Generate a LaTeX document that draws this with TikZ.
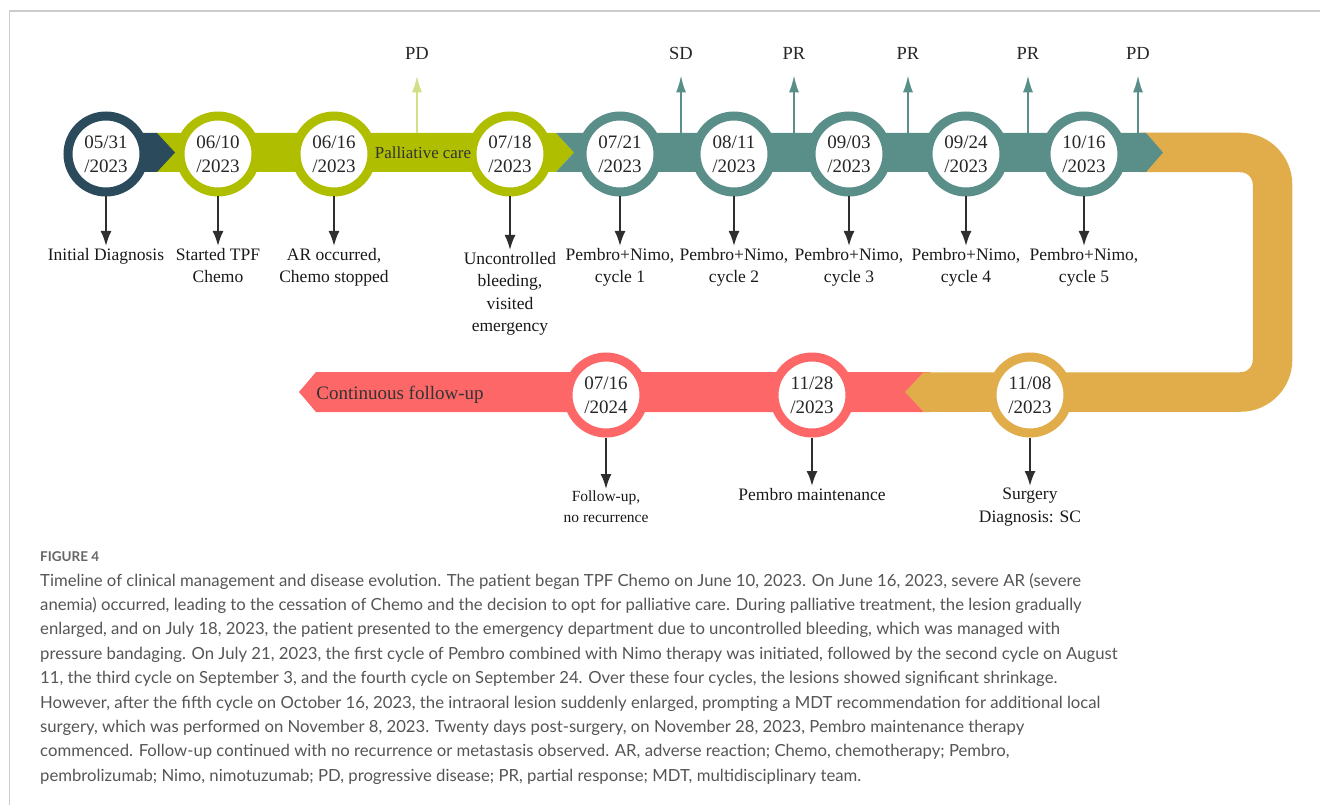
\documentclass[tikz,border=0pt]{standalone}
\usepackage{fontspec}
\setmainfont{Liberation Serif}
\newfontfamily\capfont{Lato}
\usetikzlibrary{arrows.meta}

\definecolor{navy}{HTML}{2B4B5D}
\definecolor{lime}{HTML}{AFBF00}
\definecolor{palelime}{HTML}{D3DF86}
\definecolor{tealband}{HTML}{5A8F89}
\definecolor{gold}{HTML}{E1AC4A}
\definecolor{coral}{HTML}{FE6767}
\definecolor{arrowgray}{HTML}{2E2E2E}
\definecolor{capgray}{HTML}{555555}
\definecolor{framegray}{HTML}{CCCCCC}

\begin{document}
\begin{tikzpicture}[x=1pt, y=-1pt,
	date/.style={circle, fill=white, line width=9pt, minimum size=76pt, inner sep=0pt, align=center, text=black!85, font=\fontsize{19}{24}\selectfont},
	event/.style={anchor=north, align=center, inner sep=2pt, text=black!90, font=\fontsize{17.5}{22.5}\selectfont},
	status/.style={inner sep=0pt, text=black!85, font=\fontsize{18.5}{22}\selectfont},
	down/.style={-{Latex[length=15pt,width=11pt]}, line width=2pt, draw=arrowgray},
	upteal/.style={-{Latex[length=17pt,width=10pt]}, line width=2pt, draw=tealband, shorten >=16pt},
	uplime/.style={-{Latex[length=17pt,width=10pt]}, line width=2.5pt, draw=palelime, shorten >=16pt}]

	\useasboundingbox (0,0) rectangle (1320,805);
	% Frame
	\draw[framegray, line width=1.5pt] (9.5,805) -- (9.5,11) -- (1320,11);

	% Draw bands
	%Top row
	\fill[lime] (157,133) -- (556,133) -- (574,152.5) -- (556,172) -- (157,172) -- cycle;
	\fill[navy] (106,133) -- (157,133) -- (175,152.5) -- (157,172) -- (106,172) -- cycle;
	%Bottom row
	\fill[coral] (316,372) -- (930,372) -- (930,412) -- (316,412) -- (299,392) -- cycle;
	%Turn
	\draw[gold, line width=39.5pt, rounded corners=32pt] (1140,152.5) -- (1272.5,152.5) -- (1272.5,392) -- (923,392);
	\fill[gold] (923.5,372.25) -- (905,392) -- (923.5,411.75) -- cycle;
	\fill[tealband] (556,133) -- (1146,133) -- (1163,152.5) -- (1146,172) -- (556,172) -- (574,152.5) -- cycle;

	% Plot dates
	\node (c1) at (106,154) [date, draw=navy] {05/31\\/2023};
	\node (c2) at (218,154) [date, draw=lime] {06/10\\/2023};
	\node (c3) at (334,154) [date, draw=lime] {06/16\\/2023};
	\node (c4) at (510,154) [date, draw=lime] {07/18\\/2023};
	\node (c5) at (620,154) [date, draw=tealband] {07/21\\/2023};
	\node (c6) at (734,154) [date, draw=tealband] {08/11\\/2023};
	\node (c7) at (849,154) [date, draw=tealband] {09/03\\/2023};
	\node (c8) at (966,154) [date, draw=tealband] {09/24\\/2023};
	\node (c9) at (1084,154) [date, draw=tealband] {10/16\\/2023};
	\node (c10) at (1030,395) [date, draw=gold] {11/08\\/2023};
	\node (c11) at (812,395) [date, draw=coral] {11/28\\/2023};
	\node (c12) at (606,395) [date, draw=coral] {07/16\\/2024};

	% Band labels
	\node (pall) at (423,153) [text=black!80, font=\fontsize{16.9}{20}\selectfont] {Palliative care};
	\node (cont) at (400,395) [text=black!80, font=\fontsize{19}{22}\selectfont] {Continuous follow-up};

	% Events
	\node (e1) at (106,246) [event] {Initial Diagnosis};
	\node (e2) at (218,246) [event] {Started TPF\\Chemo};
	\node (e3) at (334,246) [event] {AR occurred,\\Chemo stopped};
	\node (e4) at (510,250) [event] {Uncontrolled\\bleeding,\\visited\\emergency};
	\node (e5) at (620,246) [event] {Pembro+Nimo,\\cycle 1};
	\node (e6) at (734,246) [event] {Pembro+Nimo,\\cycle 2};
	\node (e7) at (849,246) [event] {Pembro+Nimo,\\cycle 3};
	\node (e8) at (966,246) [event] {Pembro+Nimo,\\cycle 4};
	\node (e9) at (1084,246) [event] {Pembro+Nimo,\\cycle 5};
	\node (e10) at (1030,486) [event] {Surgery\\Diagnosis: SC};
	\node (e11) at (812,486) [event] {Pembro maintenance};
	\node (e12) at (606,489) [event, font=\fontsize{15.5}{21}\selectfont] {Follow-up,\\no recurrence};

	\foreach \i in {1,...,12}
		\draw[down] (c\i) -- (e\i);

	% Responses
	\coordinate (u0) at (417,133);
	\coordinate (u1) at (681,133);
	\coordinate (u2) at (794,133);
	\coordinate (u3) at (908,133);
	\coordinate (u4) at (1028,133);
	\coordinate (u5) at (1138,133);
	\node (s0) at (417,53) [status] {PD};
	\node (s1) at (681,53) [status] {SD};
	\node (s2) at (794,53) [status] {PR};
	\node (s3) at (908,53) [status] {PR};
	\node (s4) at (1028,53) [status] {PR};
	\node (s5) at (1138,53) [status] {PD};
	\draw[uplime] (u0) -- (s0);
	\foreach \i in {1,...,5}
		\draw[upteal] (u\i) -- (s\i);

	% Caption
	\node (fig) at (40,557) [anchor=west, inner sep=0pt, text=capgray!90, font=\capfont\bfseries\fontsize{13.5}{16}\selectfont] {FIGURE 4};
	\node (cap) at (40,573) [anchor=north west, inner sep=0pt, align=left, text=capgray, font=\capfont\fontsize{16.7}{24.4}\selectfont] {Timeline of clinical management and disease evolution. The patient began TPF Chemo on June 10, 2023. On June 16, 2023, severe AR (severe\\
anemia) occurred, leading to the cessation of Chemo and the decision to opt for palliative care. During palliative treatment, the lesion gradually\\
enlarged, and on July 18, 2023, the patient presented to the emergency department due to uncontrolled bleeding, which was managed with\\
pressure bandaging. On July 21, 2023, the first cycle of Pembro combined with Nimo therapy was initiated, followed by the second cycle on August\\
11, the third cycle on September 3, and the fourth cycle on September 24. Over these four cycles, the lesions showed significant shrinkage.\\
However, after the fifth cycle on October 16, 2023, the intraoral lesion suddenly enlarged, prompting a MDT recommendation for additional local\\
surgery, which was performed on November 8, 2023. Twenty days post-surgery, on November 28, 2023, Pembro maintenance therapy\\
commenced. Follow-up continued with no recurrence or metastasis observed. AR, adverse reaction; Chemo, chemotherapy; Pembro,\\
pembrolizumab; Nimo, nimotuzumab; PD, progressive disease; PR, partial response; MDT, multidisciplinary team.};

\end{tikzpicture}
\end{document}
